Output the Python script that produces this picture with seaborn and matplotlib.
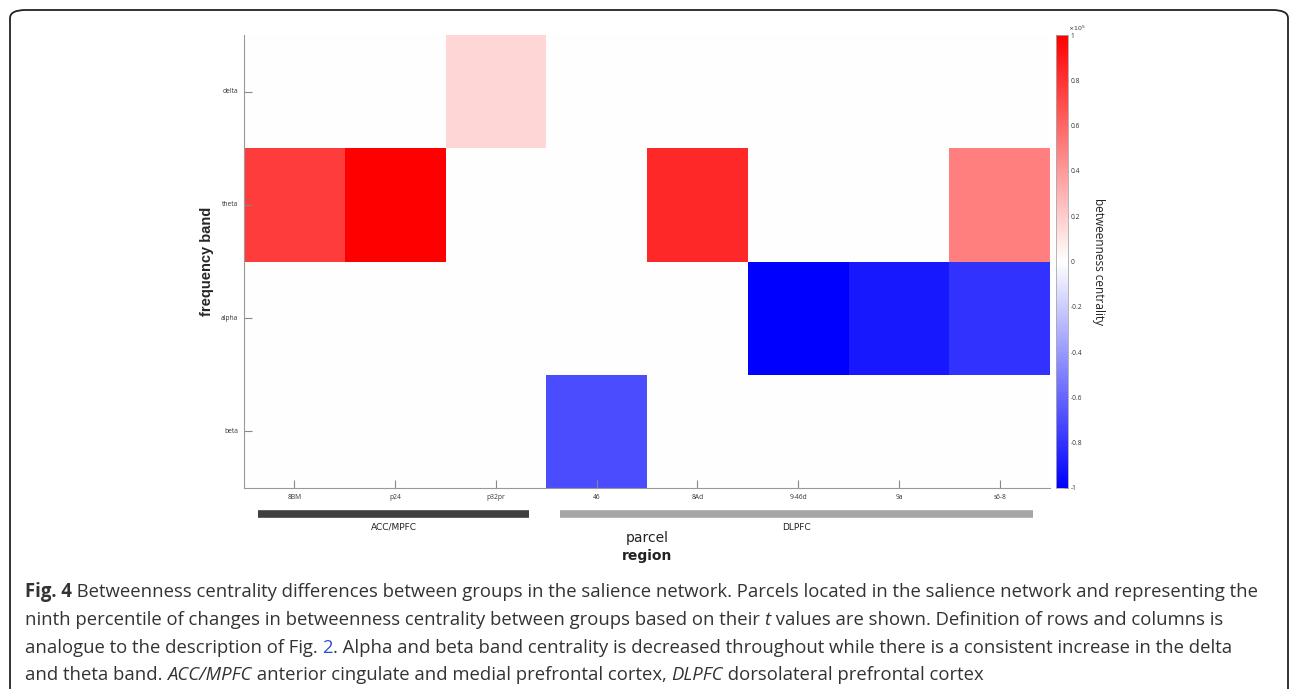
import numpy as np
import pandas as pd
import matplotlib
matplotlib.use("Agg")
import matplotlib.pyplot as plt
import seaborn as sns
from matplotlib.patches import FancyBboxPatch
import matplotlib.transforms as mtransforms

sns.set_theme(style="white")
plt.rcParams["font.family"] = ["Open Sans", "DejaVu Sans"]

# Datos (unidades de 1e5)
bands = ["delta", "theta", "alpha", "beta"]
parcels = ["8BM", "p24", "p32pr", "46", "8Ad", "9-46d", "9a", "s6-8"]
delta_vals = [0.0, 0.0, 0.16, 0.0, 0.0, 0.0, 0.0, 0.0]
theta_vals = [0.76, 1.0, 0.0, 0.0, 0.84, 0.0, 0.0, 0.5]
alpha_vals = [0.0, 0.0, 0.0, 0.0, 0.0, -1.0, -0.9, -0.8]
beta_vals = [0.0, 0.0, 0.0, -0.7, 0.0, 0.0, 0.0, 0.0]
regions = ["ACC/MPFC", "DLPFC"]
region_sizes = [3, 5]
region_colors = ["#404040", "#a6a6a6"]
cbar_ticks = [-1, -0.8, -0.6, -0.4, -0.2, 0, 0.2, 0.4, 0.6, 0.8, 1]

df = pd.DataFrame([delta_vals, theta_vals, alpha_vals, beta_vals],
                  index=bands, columns=parcels)

W, H = 1290, 689
fig = plt.figure(figsize=(W / 100, H / 100), dpi=100)

# marco redondeado
frame = FancyBboxPatch((10 / W, -20 / H), 1278 / W, (H + 10) / H,
                       boxstyle="round,pad=0,rounding_size=0.012",
                       transform=fig.transFigure, fill=False,
                       edgecolor="#222222", linewidth=1.3)
fig.patches.append(frame)

ax = fig.add_axes([244 / W, 1 - 488 / H, (1050 - 244) / W, (488 - 35) / H])
cax = fig.add_axes([1056 / W, 1 - 488 / H, 12 / W, (488 - 35) / H])

sns.heatmap(df, ax=ax, cbar_ax=cax, cmap="bwr", vmin=-1, vmax=1,
            cbar_kws={"ticks": cbar_ticks})

ax.set_axisbelow(False)
for side in ["left", "bottom"]:
    ax.spines[side].set_visible(True)
    ax.spines[side].set_color("#999999")
    ax.spines[side].set_linewidth(0.8)
    ax.spines[side].set_zorder(5)
ax.tick_params(axis="both", which="major", direction="in", length=6, width=0.8,
               color="#888888", labelcolor="#333333", labelsize=4.8,
               left=True, bottom=True, pad=4)
ax.set_yticklabels(bands, rotation=0)
ax.set_xticklabels(parcels, rotation=0)
ax.set_xlabel("")
ax.set_ylabel("frequency band", fontsize=10.5, fontweight="bold",
              family=["Liberation Sans", "DejaVu Sans"], labelpad=5)

# barra de color
cbar = ax.collections[0].colorbar
cbar.outline.set_edgecolor("#aaaaaa")
cbar.outline.set_linewidth(0.6)
cax.tick_params(direction="in", length=3, width=0.7, color="#444444",
                labelsize=4.8, labelcolor="#333333", pad=2, right=True)
cax.set_yticklabels([f"{t:g}" for t in cbar_ticks])
cax.text(1.0, 1.005, r"$\times10^{5}$", transform=cax.transAxes,
         fontsize=4.5, color="#333333", ha="left", va="bottom")
cax.set_ylabel("betweenness centrality", rotation=-90, fontsize=8.5,
               color="#222222", labelpad=16)

# barras de región
trans = mtransforms.blended_transform_factory(ax.transData, ax.transAxes)
start = 0
for name, size, col in zip(regions, region_sizes, region_colors):
    x0, x1 = start + 0.14, start + size - 0.17
    ax.plot([x0, x1], [-0.057, -0.057], color=col, linewidth=5.5,
            solid_capstyle="butt", transform=trans, clip_on=False)
    ax.text((x0 + x1) / 2, -0.087, name, transform=trans, ha="center",
            va="center", fontsize=6.5, color="#222222",
            family=["Liberation Sans Narrow", "DejaVu Sans"])
    start += size

ax.text(0.5, -0.11, "parcel", transform=ax.transAxes, ha="center",
        va="center", fontsize=10, color="#222222",
        family=["Liberation Sans Narrow", "DejaVu Sans"])
ax.text(0.5, -0.15, "region", transform=ax.transAxes, ha="center",
        va="center", fontsize=10, color="#222222", fontweight="bold",
        family=["Liberation Sans Narrow", "DejaVu Sans"])

# leyenda de la figura
caption_lines = [
    [("Fig. 4", "bold", "normal", "#333333"),
     (" Betweenness centrality differences between groups in the salience network. "
      "Parcels located in the salience network and representing the", "normal", "normal", "#333333")],
    [("ninth percentile of changes in betweenness centrality between groups based on their ", "normal", "normal", "#333333"),
     ("t", "normal", "italic", "#333333"),
     (" values are shown. Definition of rows and columns is", "normal", "normal", "#333333")],
    [("analogue to the description of Fig. ", "normal", "normal", "#333333"),
     ("2", "normal", "normal", "#2b4fd6"),
     (". Alpha and beta band centrality is decreased throughout while there is a consistent "
      "increase in the delta", "normal", "normal", "#333333")],
    [("and theta band. ", "normal", "normal", "#333333"),
     ("ACC/MPFC", "normal", "italic", "#333333"),
     (" anterior cingulate and medial prefrontal cortex, ", "normal", "normal", "#333333"),
     ("DLPFC", "normal", "italic", "#333333"),
     (" dorsolateral prefrontal cortex", "normal", "normal", "#333333")],
]
line_y = [592, 620, 648, 675]
renderer = fig.canvas.get_renderer()
for segs, yp in zip(caption_lines, line_y):
    xp = 25
    for txt, weight, style, col in segs:
        t = fig.text(xp / W, 1 - yp / H, txt, fontsize=13.35, fontweight=weight,
                     fontstyle=style, color=col, ha="left", va="center")
        bb = t.get_window_extent(renderer=renderer)
        xp += bb.width

fig.savefig("out.png", dpi=100)
